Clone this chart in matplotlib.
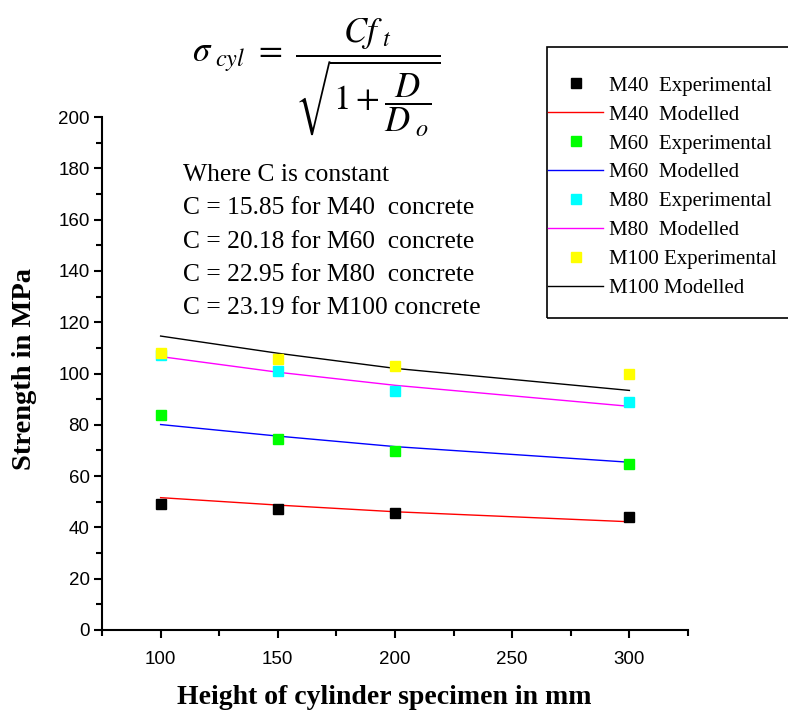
import numpy as np
import matplotlib
matplotlib.use("Agg")
import matplotlib.pyplot as plt
from matplotlib.ticker import MultipleLocator
from matplotlib.patches import Rectangle

plt.rcParams['mathtext.fontset'] = 'stix'

# Data
height = [100, 150, 200, 300]

m40_exp = [49.0, 47.2, 45.8, 44.0]
m40_mod = [51.6, 48.7, 46.1, 42.2]
m60_exp = [83.9, 74.5, 69.8, 64.7]
m60_mod = [80.1, 75.6, 71.5, 65.4]
m80_exp = [107.2, 100.9, 93.2, 88.9]
m80_mod = [106.6, 100.5, 95.4, 87.2]
m100_exp = [107.9, 105.8, 102.9, 99.8]
m100_mod = [114.6, 107.9, 102.0, 93.4]

series = [
    ('M40  Experimental', m40_exp, 'black', 'M40  Modelled', m40_mod, 'red'),
    ('M60  Experimental', m60_exp, '#00ff00', 'M60  Modelled', m60_mod, 'blue'),
    ('M80  Experimental', m80_exp, 'cyan', 'M80  Modelled', m80_mod, 'magenta'),
    ('M100 Experimental', m100_exp, 'yellow', 'M100 Modelled', m100_mod, 'black'),
]

constants = ['C = 15.85 for M40  concrete',
             'C = 20.18 for M60  concrete',
             'C = 22.95 for M80  concrete',
             'C = 23.19 for M100 concrete']

W, H = 788, 713
fig = plt.figure(figsize=(W / 100, H / 100), dpi=100)
ax = fig.add_axes([102 / W, 1 - 630 / H, (688 - 102) / W, (630 - 117) / H])

handles = []
for exp_lab, exp, ecol, mod_lab, mod, mcol in series:
    h1, = ax.plot(height, exp, 's', color=ecol, markersize=7, linestyle='none',
                  label=exp_lab, zorder=3)
    h2, = ax.plot(height, mod, '-', color=mcol, linewidth=1, label=mod_lab, zorder=2)
    handles += [h1, h2]

ax.set_xlim(75, 325)
ax.set_ylim(0, 200)
ax.xaxis.set_minor_locator(MultipleLocator(25))
ax.yaxis.set_major_locator(MultipleLocator(20))
ax.yaxis.set_minor_locator(MultipleLocator(10))
ax.set_xticks([100, 150, 200, 250, 300])

for s in ['top', 'right']:
    ax.spines[s].set_visible(False)
for s in ['left', 'bottom']:
    ax.spines[s].set_linewidth(1.5)
ax.tick_params(which='major', direction='out', length=6, width=1.5,
               labelsize=13.5, pad=3)
ax.tick_params(axis='x', which='major', pad=9)
ax.tick_params(which='minor', direction='out', length=4, width=1.5)
for lab in ax.get_xticklabels() + ax.get_yticklabels():
    lab.set_fontfamily('Liberation Sans')

fig.text(384 / W, 1 - 697 / H, 'Height of cylinder specimen in mm',
         fontfamily='Liberation Serif', fontweight='bold', fontsize=20,
         ha='center', va='center')
fig.text(25 / W, 1 - 369 / H, 'Strength in MPa', rotation=90,
         fontfamily='Liberation Serif', fontweight='bold', fontsize=20.5,
         ha='center', va='center')

# formula
fig.text(316 / W, 1 - 78 / H,
         r'$\sigma_{\ cyl}\ =\ \dfrac{Cf_{\ t}}{\sqrt{1+\dfrac{D}{D_{\ o}}}}$',
         fontsize=25, ha='center', va='center')

# constants text
lines = ['Where C is constant'] + constants
for i, t in enumerate(lines):
    fig.text(183 / W, 1 - (175 + i * 33.3) / H, t, fontfamily='Liberation Serif',
             fontsize=18.4, va='center', ha='left')

# legend frame, running off the right edge as in the original
fig.patches.append(Rectangle((547 / W, 1 - 318 / H), 300 / W, (318 - 47) / H,
                             transform=fig.transFigure, fill=False,
                             edgecolor='black', linewidth=1.2))
fig.legend(handles=handles, loc='upper left',
           bbox_to_anchor=(548 / W, 1 - 76 / H),
           prop={'family': 'Liberation Serif', 'size': 15},
           frameon=False, borderpad=0, labelspacing=0.45, handlelength=2.65,
           handletextpad=0.3, borderaxespad=0)

fig.savefig('out.png', dpi=100)
